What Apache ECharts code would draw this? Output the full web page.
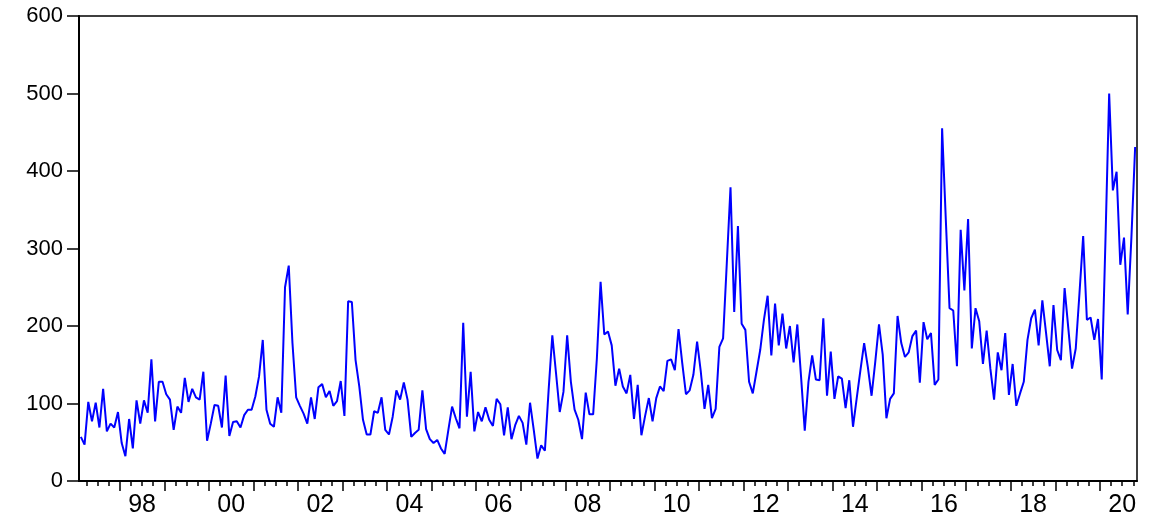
<!DOCTYPE html>
<html>
<head>
<meta charset="utf-8">
<script src="https://cdn.jsdelivr.net/npm/echarts@6/dist/echarts.min.js"></script>
<style>
  html, body { margin: 0; padding: 0; background: #fff; }
  #chart { width: 1152px; height: 526px; }
</style>
</head>
<body>
<div id="chart"></div>
<script>
// monthly series, first observation 1997M02, last 2020M10
var startYear = 1997;
var startMonth = 2;
var values = [
  57, 47, 102, 77, 101, 69, 119, 64, 74, 69, 89,
  49, 32, 80, 42, 104, 74, 104, 88, 157, 77, 128, 128,
  112, 105, 66, 96, 88, 133, 102, 119, 108, 105, 141, 52,
  74, 98, 97, 69, 136, 58, 76, 77, 69, 85, 92, 92,
  109, 135, 182, 92, 74, 70, 108, 88, 250, 278, 178, 108,
  97, 87, 74, 108, 80, 121, 125, 108, 116, 97, 103, 129,
  84, 232, 231, 156, 122, 79, 60, 60, 90, 88, 108, 66,
  60, 83, 117, 105, 127, 105, 57, 62, 66, 117, 67, 54,
  49, 53, 42, 35, 66, 96, 81, 68, 204, 83, 141, 64,
  89, 77, 95, 79, 71, 106, 99, 59, 95, 54, 72, 84,
  75, 47, 101, 66, 29, 46, 39, 117, 188, 139, 89, 115,
  188, 128, 92, 79, 54, 114, 86, 86, 158, 257, 189, 193,
  175, 123, 145, 122, 113, 137, 80, 124, 59, 84, 107, 77,
  107, 122, 116, 155, 157, 143, 196, 152, 112, 117, 137, 180,
  141, 93, 124, 81, 93, 173, 184, 281, 379, 218, 329, 203,
  195, 128, 113, 141, 169, 208, 239, 162, 229, 175, 216, 171,
  200, 153, 202, 135, 65, 128, 162, 131, 130, 210, 110, 167,
  106, 135, 132, 94, 130, 70, 107, 143, 178, 147, 110, 154,
  202, 163, 81, 106, 113, 213, 178, 160, 166, 187, 194, 127,
  205, 183, 191, 124, 131, 455, 337, 223, 220, 148, 324, 246,
  338, 171, 223, 206, 151, 194, 145, 105, 166, 143, 191, 111,
  151, 97, 113, 128, 182, 210, 221, 175, 233, 191, 148, 227,
  169, 156, 249, 197, 145, 171, 242, 316, 208, 211, 182, 209,
  131, 310, 500, 375, 399, 279, 314, 215, 315, 431
];
var yearTicks = [1998, 1999, 2000, 2001, 2002, 2003, 2004, 2005, 2006, 2007, 2008,
  2009, 2010, 2011, 2012, 2013, 2014, 2015, 2016, 2017, 2018, 2019, 2020];
var yearLabels = [1998, 2000, 2002, 2004, 2006, 2008, 2010, 2012, 2014, 2016, 2018, 2020];
var yTicks = [0, 100, 200, 300, 400, 500, 600];

// x position in months since 1997M01, each month drawn at the middle of its slot
var firstPos = startMonth - 1;
var lastPos = firstPos + values.length;
var seriesData = values.map(function (v, i) {
  return [firstPos + i + 0.5, v];
});
var majorTickPos = yearTicks.map(function (y) { return (y - startYear) * 12; });
var labelPos = yearLabels.map(function (y) { return (y - startYear) * 12 + 6; });
var minorTickPos = [];
for (var q = 3; q < lastPos; q += 3) {
  if (q > firstPos && q % 12 !== 0) minorTickPos.push(q);
}

var chart = echarts.init(document.getElementById('chart'));
chart.setOption({
  animation: false,
  backgroundColor: '#fff',
  textStyle: { fontFamily: 'Liberation Sans, Arial, sans-serif' },
  grid: {
    left: 79, right: 15, top: 16, bottom: 45,
    show: true, borderColor: '#000', borderWidth: 1.5,
    containLabel: false
  },
  xAxis: [
    {
      type: 'value', min: firstPos, max: lastPos, position: 'bottom',
      axisLine: { show: true, lineStyle: { color: '#000', width: 2 } },
      axisTick: { show: true, customValues: majorTickPos, length: 10, lineStyle: { color: '#000', width: 1.5 } },
      axisLabel: {
        customValues: labelPos, color: '#000', fontSize: 25, margin: 12,
        formatter: function (v) {
          var yr = startYear + Math.floor(v / 12);
          return String(yr % 100).padStart(2, '0');
        }
      },
      splitLine: { show: false }
    },
    {
      type: 'value', min: firstPos, max: lastPos, position: 'bottom', offset: 0,
      axisLine: { show: false },
      axisTick: { show: true, customValues: minorTickPos, length: 5, lineStyle: { color: '#000', width: 1.5 } },
      axisLabel: { show: false },
      splitLine: { show: false }
    }
  ],
  yAxis: {
    type: 'value', min: 0, max: 600, interval: 100,
    axisLine: { show: true, lineStyle: { color: '#000', width: 2 } },
    axisTick: { show: true, length: 12, lineStyle: { color: '#000', width: 1.5 } },
    axisLabel: { color: '#000', fontSize: 22, margin: 16 },
    splitLine: { show: false }
  },
  series: [{
    type: 'line',
    data: seriesData,
    symbol: 'none',
    lineStyle: { color: '#0000ff', width: 2 },
    itemStyle: { color: '#0000ff' }
  }]
});
</script>
</body>
</html>
